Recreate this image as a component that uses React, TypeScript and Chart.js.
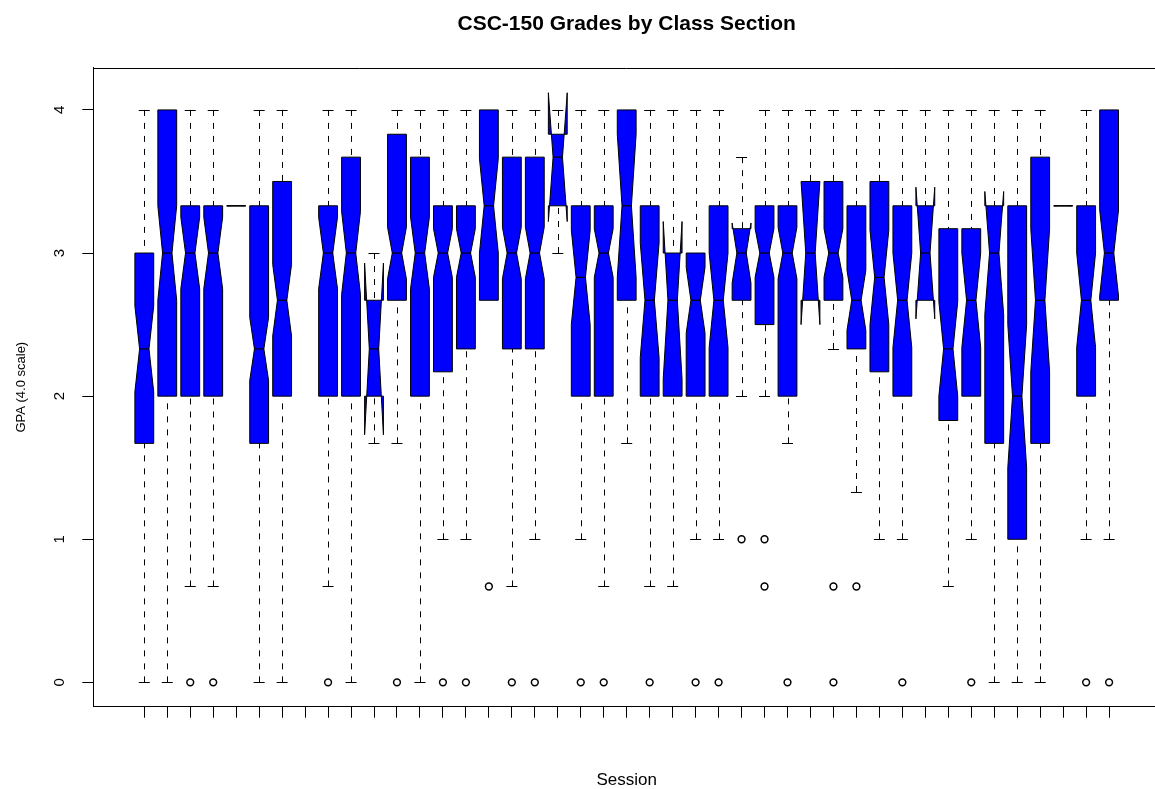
import React, { useEffect, useRef } from 'react';
import { Chart, registerables } from 'chart.js';

Chart.register(...registerables);

// ---- data ----
const chartTitle = 'CSC-150 Grades by Class Section';
const xAxisTitle = 'Session';
const yAxisTitle = 'GPA (4.0 scale)';

// category positions (one per class section, 1-based like R's boxplot)
const sessions = [
  1, 2, 3, 4, 5, 6, 7, 8, 9, 10, 11, 12, 13, 14, 15, 16, 17, 18, 19, 20, 21, 22,
  23, 24, 25, 26, 27, 28, 29, 30, 31, 32, 33, 34, 35, 36, 37, 38, 39, 40, 41, 42, 43,
];

const yTickValues = [0, 1, 2, 3, 4];

const q1 = [
  1.67, 2.0, 2.0, 2.0, 3.33, 1.67, 2.0, null, 2.0, 2.0, 2.0, 2.67, 2.0, 2.17, 2.33,
  2.67, 2.33, 2.33, 3.33, 2.0, 2.0, 2.67, 2.0, 2.0, 2.0, 2.0, 2.67, 2.5, 2.0, 2.67,
  2.67, 2.33, 2.17, 2.0, 2.67, 1.83, 2.0, 1.67, 1.0, 1.67, 3.33, 2.0, 2.67,
];

const medians = [
  2.33, 3.0, 3.0, 3.0, 3.33, 2.33, 2.67, null, 3.0, 3.0, 2.33, 3.0, 3.0, 3.0, 3.0,
  3.33, 3.0, 3.0, 3.67, 2.83, 3.0, 3.33, 2.67, 2.67, 2.67, 2.67, 3.0, 3.0, 3.0, 3.0,
  3.0, 2.67, 2.83, 2.67, 3.0, 2.33, 2.67, 3.0, 2.0, 2.67, 3.33, 2.67, 3.0,
];

const q3 = [
  3.0, 4.0, 3.33, 3.33, 3.33, 3.33, 3.5, null, 3.33, 3.67, 2.67, 3.83, 3.67, 3.33, 3.33,
  4.0, 3.67, 3.67, 3.83, 3.33, 3.33, 4.0, 3.33, 3.0, 3.0, 3.33, 3.17, 3.33, 3.33, 3.5,
  3.5, 3.33, 3.5, 3.33, 3.33, 3.17, 3.17, 3.33, 3.33, 3.67, 3.33, 3.33, 4.0,
];

const whiskerLow = [
  0, 0, 0.67, 0.67, 3.33, 0, 0, null, 0.67, 0, 1.67, 1.67, 0, 1.0, 1.0,
  2.67, 0.67, 1.0, 3.0, 1.0, 0.67, 1.67, 0.67, 0.67, 1.0, 1.0, 2.0, 2.0, 1.67, 2.67,
  2.33, 1.33, 1.0, 1.0, 2.67, 0.67, 1.0, 0, 0, 0, 3.33, 1.0, 1.0,
];

const whiskerHigh = [
  4, 4, 4, 4, 3.33, 4, 4, null, 4, 4, 3.0, 4, 4, 4, 4,
  4, 4, 4, 4, 4, 4, 4, 4, 4, 4, 4, 3.67, 4, 4, 4,
  4, 4, 4, 4, 4, 4, 4, 4, 4, 4, 3.33, 4, 4,
];

// half-height of the notch (median +/- this value)
const notchHalf = [
  0.3, 0.33, 0.25, 0.25, 0, 0.22, 0.25, null, 0.25, 0.29, 0.6, 0.18, 0.25, 0.17, 0.17,
  0.33, 0.18, 0.18, 0.45, 0.33, 0.17, 0.5, 0.4, 0.55, 0.23, 0.33, 0.21, 0.17, 0.18, 0.5,
  0.17, 0.21, 0.33, 0.33, 0.46, 0.33, 0.33, 0.43, 0.5, 0.5, 0, 0.33, 0.3,
];

const outliers: number[][] = [
  [], [], [0], [0], [], [], [], [], [0], [], [], [0], [], [0], [0],
  [0.67], [0], [0], [], [0], [0], [], [0], [], [0], [0], [1.0], [1.0, 0.67], [0], [],
  [0.67, 0], [0.67], [], [0], [], [], [0], [], [], [], [], [0], [0],
];

// ---- styling constants ----
const FONT = "'Liberation Sans', Arial, Helvetica, sans-serif";
const BOX_HALF = 0.41; // half box width in category units
const NOTCH_FRAC = 0.5;
const STAPLE_HALF = 0.24;
const BOX_FILL = '#0000ff';

const notchedBoxPlugin = {
  id: 'notchedBoxes',
  beforeDatasetsDraw(chart: any) {
    const { ctx, chartArea } = chart;
    const xs = chart.scales.x;
    const ys = chart.scales.y;
    ctx.save();

    sessions.forEach((pos, i) => {
      const a = q1[i];
      const m = medians[i];
      const b = q3[i];
      const lo = whiskerLow[i];
      const hi = whiskerHigh[i];
      const nh = notchHalf[i];
      if (a == null || m == null || b == null || lo == null || hi == null || nh == null) return;

      const cx = xs.getPixelForValue(pos);
      const px = (u: number) => xs.getPixelForValue(pos + u * BOX_HALF);
      const py = (v: number) => ys.getPixelForValue(v);
      const xc = Math.round(cx) + 0.5;

      // whiskers (dashed), drawn from whisker end toward the box
      ctx.strokeStyle = '#000';
      ctx.lineWidth = 1;
      ctx.setLineDash([6, 7]);
      if (hi > b) {
        ctx.beginPath();
        ctx.moveTo(xc, py(hi));
        ctx.lineTo(xc, py(b));
        ctx.stroke();
      }
      if (lo < a) {
        ctx.beginPath();
        ctx.moveTo(xc, py(lo));
        ctx.lineTo(xc, py(a));
        ctx.stroke();
      }
      ctx.setLineDash([]);

      // staples
      const sL = xs.getPixelForValue(pos - STAPLE_HALF);
      const sR = xs.getPixelForValue(pos + STAPLE_HALF);
      if (hi > b) {
        const yy = Math.round(py(hi)) + 0.5;
        ctx.beginPath();
        ctx.moveTo(sL, yy);
        ctx.lineTo(sR, yy);
        ctx.stroke();
      }
      if (lo < a) {
        const yy = Math.round(py(lo)) + 0.5;
        ctx.beginPath();
        ctx.moveTo(sL, yy);
        ctx.lineTo(sR, yy);
        ctx.stroke();
      }

      // notched box polygon (same vertex order as R's bxp)
      const c1 = m - nh;
      const c2 = m + nh;
      const shape: [number, number][] = [
        [-1, a], [1, a], [1, c1], [NOTCH_FRAC, m], [1, c2],
        [1, b], [-1, b], [-1, c2], [-NOTCH_FRAC, m], [-1, c1],
      ];
      ctx.beginPath();
      shape.forEach(([u, v], k) => {
        const X = px(u);
        const Y = py(v);
        if (k === 0) ctx.moveTo(X, Y);
        else ctx.lineTo(X, Y);
      });
      ctx.closePath();
      ctx.fillStyle = BOX_FILL;
      ctx.fill('nonzero');
      ctx.lineWidth = 1;
      ctx.strokeStyle = '#000';
      ctx.stroke();

      // median segment
      ctx.beginPath();
      ctx.lineWidth = 1.2;
      ctx.moveTo(px(-NOTCH_FRAC), py(m));
      ctx.lineTo(px(NOTCH_FRAC), py(m));
      ctx.stroke();
    });

    // frame: top and right edges of the plot box
    ctx.lineWidth = 1;
    ctx.strokeStyle = '#000';
    ctx.beginPath();
    const t = Math.round(chartArea.top) + 0.5;
    const r = Math.round(chartArea.right) - 0.5;
    ctx.moveTo(chartArea.left, t);
    ctx.lineTo(r, t);
    ctx.lineTo(r, chartArea.bottom);
    ctx.stroke();
    ctx.restore();
  },
};

export default function App() {
  const canvasRef = useRef<HTMLCanvasElement | null>(null);

  useEffect(() => {
    const canvas = canvasRef.current;
    if (!canvas) return;

    const outlierPoints: { x: number; y: number }[] = [];
    sessions.forEach((pos, i) => {
      outliers[i].forEach((v) => outlierPoints.push({ x: pos, y: v }));
    });

    const chart = new Chart(canvas, {
      type: 'scatter',
      data: {
        datasets: [
          {
            label: 'Outliers',
            data: outlierPoints,
            pointStyle: 'circle',
            pointRadius: 3.4,
            pointHoverRadius: 3.4,
            borderWidth: 1.5,
            borderColor: '#000',
            backgroundColor: 'rgba(0,0,0,0)',
            showLine: false,
          },
        ],
      },
      options: {
        responsive: true,
        maintainAspectRatio: false,
        animation: false,
        devicePixelRatio: 1,
        events: [],
        layout: { padding: { left: 0, right: 1, top: 0, bottom: 0 } },
        plugins: {
          legend: { display: false },
          tooltip: { enabled: false },
          title: {
            display: true,
            text: chartTitle,
            fullSize: false,
            color: '#000',
            font: { family: FONT, size: 21, weight: 'bold', lineHeight: 1.2 },
            padding: { top: 11.9, bottom: 30.6 },
          },
        },
        scales: {
          x: {
            type: 'linear',
            min: -1.22,
            max: 45.22,
            afterBuildTicks: (s: any) => {
              s.ticks = sessions.map((v) => ({ value: v }));
            },
            afterFit: (s: any) => {
              s.height = 82.3;
            },
            grid: {
              display: true,
              drawOnChartArea: false,
              drawTicks: true,
              tickLength: 11,
              color: '#000',
              lineWidth: 1,
            },
            border: { display: true, color: '#000', width: 1 },
            ticks: { display: false, autoSkip: false },
            title: {
              display: true,
              text: xAxisTitle,
              color: '#000',
              font: { family: FONT, size: 17, lineHeight: 1 },
              padding: { top: 0, bottom: 0 },
            },
          },
          y: {
            type: 'linear',
            min: -0.17,
            max: 4.295,
            afterBuildTicks: (s: any) => {
              s.ticks = yTickValues.map((v) => ({ value: v }));
            },
            afterFit: (s: any) => {
              s.width = 93.3;
            },
            grid: {
              display: true,
              drawOnChartArea: false,
              drawTicks: true,
              tickLength: 11,
              color: '#000',
              lineWidth: 1,
            },
            border: { display: true, color: '#000', width: 1 },
            ticks: {
              color: '#000',
              font: { family: FONT, size: 15 },
              minRotation: 90,
              maxRotation: 90,
              crossAlign: 'center',
              padding: 18,
              callback: (v: any) => String(v),
            },
            title: {
              display: true,
              text: yAxisTitle,
              color: '#000',
              font: { family: FONT, size: 13, lineHeight: 1.2 },
              padding: { top: 14, bottom: 0 },
            },
          },
        },
      },
      plugins: [notchedBoxPlugin],
    } as any);

    return () => {
      chart.destroy();
    };
  }, []);

  return (
    <div
      style={{
        position: 'absolute',
        left: 0,
        top: 0,
        width: 1155,
        height: 789,
        overflow: 'hidden',
        background: '#fff',
      }}
    >
      <div style={{ position: 'relative', width: 1165, height: 789 }}>
        <canvas ref={canvasRef} />
      </div>
    </div>
  );
}
